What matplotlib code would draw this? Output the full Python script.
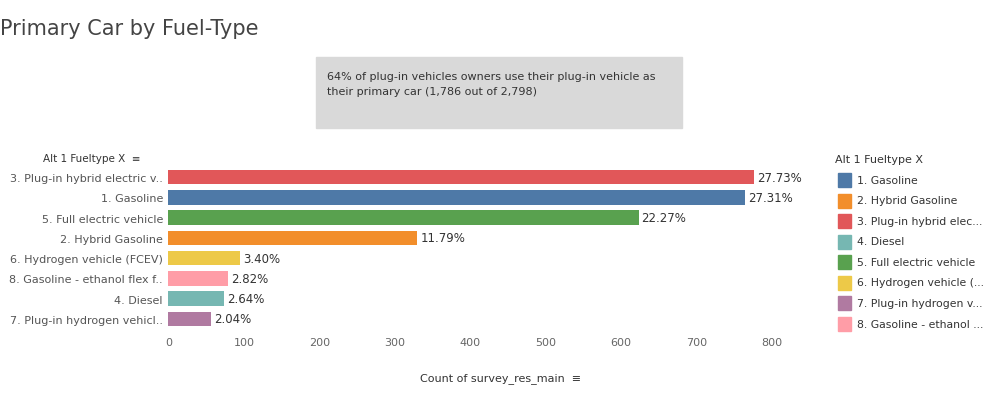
import matplotlib.pyplot as plt
from matplotlib.patches import Rectangle

labels = ["3. Plug-in hybrid electric v..", "1. Gasoline", "5. Full electric vehicle",
          "2. Hybrid Gasoline", "6. Hydrogen vehicle (FCEV)", "8. Gasoline - ethanol flex f..",
          "4. Diesel", "7. Plug-in hydrogen vehicl.."]
counts = [776, 764, 623, 330, 95, 79, 74, 57]
pcts = ["27.73%", "27.31%", "22.27%", "11.79%", "3.40%", "2.82%", "2.64%", "2.04%"]
colors = ["#e15759", "#4e79a7", "#59a14f", "#f28e2b", "#edc948", "#ff9da7", "#76b7b2", "#b07aa1"]

legend_labels = ["1. Gasoline", "2. Hybrid Gasoline", "3. Plug-in hybrid elec...", "4. Diesel",
                 "5. Full electric vehicle", "6. Hydrogen vehicle (...", "7. Plug-in hydrogen v...",
                 "8. Gasoline - ethanol ..."]
legend_colors = ["#4e79a7", "#f28e2b", "#e15759", "#76b7b2", "#59a14f", "#edc948", "#b07aa1", "#ff9da7"]

fig = plt.figure(figsize=(9.91, 4.06), dpi=100)
ax = fig.add_axes([0.170, 0.187, 0.67, 0.399])
y = list(range(len(labels)))
ax.barh(y, counts, color=colors, height=0.72)
for yi, c, p in zip(y, counts, pcts):
    ax.text(c + 4, yi, p, va="center", fontsize=8.5, color="#333333")
ax.set_ylim(len(labels) - 0.5, -0.5)
ax.set_xlim(0, 880)
ax.set_xticks(range(0, 900, 100))
ax.set_yticks(y)
ax.set_yticklabels(labels, fontsize=8, color="#555555")
ax.tick_params(axis="x", labelsize=8, colors="#666666", length=0, pad=6)
ax.tick_params(axis="y", length=0, pad=4)
for s in ax.spines.values():
    s.set_visible(False)
ax.set_xlabel("Count of survey_res_main  \u2261", fontsize=8, color="#333333", labelpad=18)

fig.text(0.0, 0.915, "Primary Car by Fuel-Type", fontsize=15, color="#444444")
fig.text(0.043, 0.6, "Alt 1 Fueltype X  \u2261", fontsize=7.5, color="#333333")

fig.patches.append(Rectangle((316 / 991, 1 - 129 / 406), 366 / 991, 71 / 406,
                             transform=fig.transFigure, color="#d9d9d9", zorder=0))
fig.text(327 / 991, 1 - 72 / 406, "64% of plug-in vehicles owners use their plug-in vehicle as\n"
         "their primary car (1,786 out of 2,798)", fontsize=8, color="#333333",
         va="top", linespacing=1.6)

fig.text(835 / 991, 1 - 160 / 406, "Alt 1 Fueltype X", fontsize=8, color="#333333", va="center")
for i, (lab, col) in enumerate(zip(legend_labels, legend_colors)):
    yc = 1 - (181 + i * 20.5) / 406
    fig.patches.append(Rectangle((838 / 991, yc - 7 / 406), 13 / 991, 14 / 406,
                                 transform=fig.transFigure, color=col))
    fig.text(857 / 991, yc, lab, fontsize=7.8, color="#333333", va="center")

fig.savefig("out.png", dpi=100)
